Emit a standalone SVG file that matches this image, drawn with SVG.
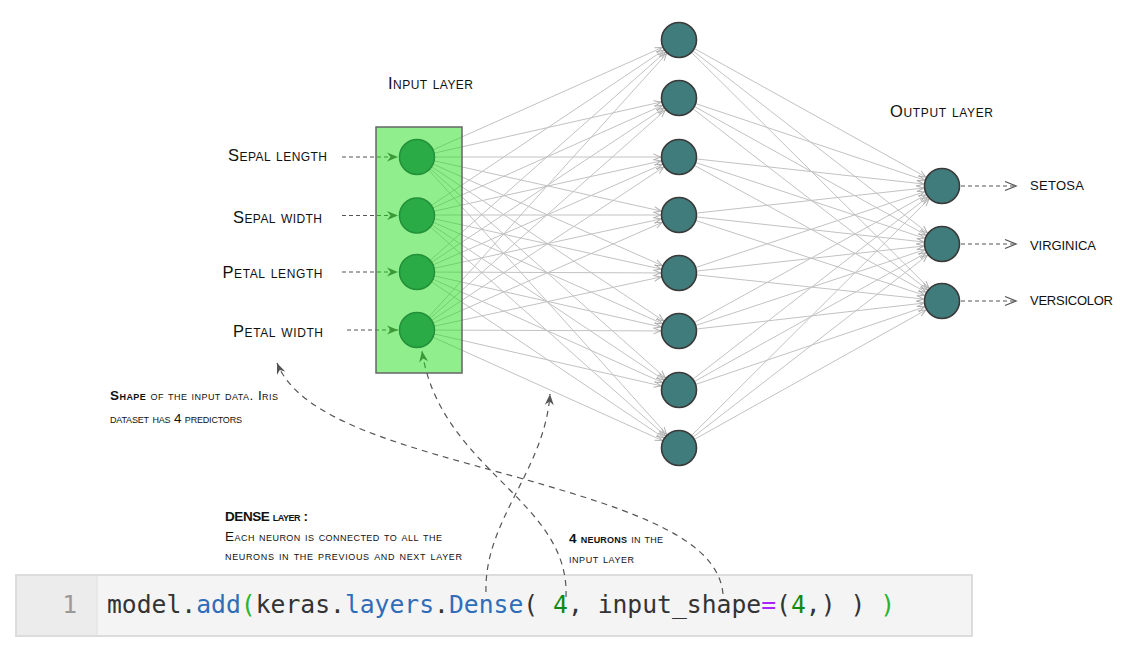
<svg xmlns="http://www.w3.org/2000/svg" width="1127" height="652" viewBox="0 0 1127 652">
  <style>
    .lbl { font-family: "Liberation Sans", Arial, sans-serif; font-variant: small-caps; fill: #111; }
    .big { font-size: 16.5px; }
    .out { font-size: 18px; }
    .note { font-size: 13.5px; }
    .syn { stroke: #c2c2c2; stroke-width: 1; fill: none; marker-end: url(#chev); }
    .feed { stroke: #555; stroke-width: 1.2; stroke-dasharray: 4 3; fill: none; marker-end: url(#barb); }
    .emit { stroke: #555; stroke-width: 1.2; stroke-dasharray: 4 3; fill: none; marker-end: url(#open); }
    .curve { stroke: #555; stroke-width: 1.2; stroke-dasharray: 6 5; fill: none; marker-end: url(#barb); }
    .in { fill: #2aab45; stroke: #23913a; stroke-width: 1.5; }
    .hid { fill: #407c7b; stroke: #3a3a3a; stroke-width: 1.6; }
    .code { font-family: "DejaVu Sans Mono", "Liberation Mono", monospace; font-size: 24.7px; fill: #333; }
    .b { fill: #2f6db8; }
    .g { fill: #2ab52a; }
    .n { fill: #118a11; }
    .p { fill: #aa22ff; }
  </style>
  <defs>
    <marker id="chev" markerUnits="userSpaceOnUse" markerWidth="40" markerHeight="20" refX="18.5" refY="0" orient="auto" overflow="visible">
      <path d="M-7,-3 L0,0 L-7,3" fill="none" stroke="#b0b0b0" stroke-width="1"/>
    </marker>
    <marker id="barb" markerUnits="userSpaceOnUse" markerWidth="20" markerHeight="20" refX="0" refY="0" orient="auto" overflow="visible">
      <path d="M0,0 L-11,-4.5 L-7.5,0 L-11,4.5 Z" fill="#555"/>
    </marker>
    <marker id="open" markerUnits="userSpaceOnUse" markerWidth="20" markerHeight="20" refX="0" refY="0" orient="auto" overflow="visible">
      <path d="M-11,-4.5 L0,0 L-11,4.5" fill="none" stroke="#555" stroke-width="1.3"/>
    </marker>
  </defs>

  <rect width="1127" height="652" fill="#fff"/>

  <!-- code cell -->
  <g id="code-cell">
    <rect x="16" y="575" width="956" height="61" fill="#f4f4f4" stroke="#dcdcdc" stroke-width="2"/>
    <rect x="17" y="576" width="80" height="59" fill="#ececec"/>
    <line x1="97" y1="576" x2="97" y2="635" stroke="#e0e0e0" stroke-width="1"/>
    <text class="code" x="77" y="613" text-anchor="end" style="fill:#999">1</text>
    <text class="code" x="107" y="613" textLength="788" lengthAdjust="spacing">model.<tspan class="b">add</tspan><tspan class="g">(</tspan>keras.<tspan class="b">layers</tspan>.<tspan class="b">Dense</tspan>( <tspan class="n">4</tspan>, input_shape<tspan class="p">=</tspan>(<tspan class="n">4</tspan>,) ) <tspan class="g">)</tspan></text>
  </g>

  <!-- connectors -->
  <g id="connectors">
    <!-- input -> hidden -->
    <line class="syn" x1="417" y1="157" x2="679" y2="40"/>
    <line class="syn" x1="417" y1="157" x2="679" y2="98"/>
    <line class="syn" x1="417" y1="157" x2="679" y2="157"/>
    <line class="syn" x1="417" y1="157" x2="679" y2="215"/>
    <line class="syn" x1="417" y1="157" x2="679" y2="273"/>
    <line class="syn" x1="417" y1="157" x2="679" y2="331"/>
    <line class="syn" x1="417" y1="157" x2="679" y2="390"/>
    <line class="syn" x1="417" y1="157" x2="679" y2="448"/>
    <line class="syn" x1="417" y1="215" x2="679" y2="40"/>
    <line class="syn" x1="417" y1="215" x2="679" y2="98"/>
    <line class="syn" x1="417" y1="215" x2="679" y2="157"/>
    <line class="syn" x1="417" y1="215" x2="679" y2="215"/>
    <line class="syn" x1="417" y1="215" x2="679" y2="273"/>
    <line class="syn" x1="417" y1="215" x2="679" y2="331"/>
    <line class="syn" x1="417" y1="215" x2="679" y2="390"/>
    <line class="syn" x1="417" y1="215" x2="679" y2="448"/>
    <line class="syn" x1="417" y1="272" x2="679" y2="40"/>
    <line class="syn" x1="417" y1="272" x2="679" y2="98"/>
    <line class="syn" x1="417" y1="272" x2="679" y2="157"/>
    <line class="syn" x1="417" y1="272" x2="679" y2="215"/>
    <line class="syn" x1="417" y1="272" x2="679" y2="273"/>
    <line class="syn" x1="417" y1="272" x2="679" y2="331"/>
    <line class="syn" x1="417" y1="272" x2="679" y2="390"/>
    <line class="syn" x1="417" y1="272" x2="679" y2="448"/>
    <line class="syn" x1="417" y1="330" x2="679" y2="40"/>
    <line class="syn" x1="417" y1="330" x2="679" y2="98"/>
    <line class="syn" x1="417" y1="330" x2="679" y2="157"/>
    <line class="syn" x1="417" y1="330" x2="679" y2="215"/>
    <line class="syn" x1="417" y1="330" x2="679" y2="273"/>
    <line class="syn" x1="417" y1="330" x2="679" y2="331"/>
    <line class="syn" x1="417" y1="330" x2="679" y2="390"/>
    <line class="syn" x1="417" y1="330" x2="679" y2="448"/>
    <!-- hidden -> output -->
    <line class="syn" x1="679" y1="40" x2="942" y2="186"/>
    <line class="syn" x1="679" y1="40" x2="942" y2="244"/>
    <line class="syn" x1="679" y1="40" x2="942" y2="301"/>
    <line class="syn" x1="679" y1="98" x2="942" y2="186"/>
    <line class="syn" x1="679" y1="98" x2="942" y2="244"/>
    <line class="syn" x1="679" y1="98" x2="942" y2="301"/>
    <line class="syn" x1="679" y1="157" x2="942" y2="186"/>
    <line class="syn" x1="679" y1="157" x2="942" y2="244"/>
    <line class="syn" x1="679" y1="157" x2="942" y2="301"/>
    <line class="syn" x1="679" y1="215" x2="942" y2="186"/>
    <line class="syn" x1="679" y1="215" x2="942" y2="244"/>
    <line class="syn" x1="679" y1="215" x2="942" y2="301"/>
    <line class="syn" x1="679" y1="273" x2="942" y2="186"/>
    <line class="syn" x1="679" y1="273" x2="942" y2="244"/>
    <line class="syn" x1="679" y1="273" x2="942" y2="301"/>
    <line class="syn" x1="679" y1="331" x2="942" y2="186"/>
    <line class="syn" x1="679" y1="331" x2="942" y2="244"/>
    <line class="syn" x1="679" y1="331" x2="942" y2="301"/>
    <line class="syn" x1="679" y1="390" x2="942" y2="186"/>
    <line class="syn" x1="679" y1="390" x2="942" y2="244"/>
    <line class="syn" x1="679" y1="390" x2="942" y2="301"/>
    <line class="syn" x1="679" y1="448" x2="942" y2="186"/>
    <line class="syn" x1="679" y1="448" x2="942" y2="244"/>
    <line class="syn" x1="679" y1="448" x2="942" y2="301"/>

    <!-- feature arrows into the input layer -->
    <path class="feed" d="M342,157 H398"/>
    <path class="feed" d="M342,215.5 H398"/>
    <path class="feed" d="M342,272 H398"/>
    <path class="feed" d="M347,330 H398"/>

    <!-- class arrows out of the output layer -->
    <path class="emit" d="M961,186 H1016"/>
    <path class="emit" d="M961,244 H1016"/>
    <path class="emit" d="M961,301 H1016"/>

    <!-- annotation curves from the code line -->
    <path class="curve" d="M723,594 C718,540 640,512 520,478 C400,445 300,420 277,363"/>
    <path class="curve" d="M486,592 C484,520 545,470 550,394"/>
    <path class="curve" d="M566,597 C570,500 440,470 422,351"/>
  </g>

  <!-- input layer -->
  <g id="input-layer">
    <rect x="376" y="127" width="86" height="246" fill="#22dd1c" fill-opacity="0.5" stroke="#666" stroke-width="1.5"/>
    <text class="lbl big" x="388" y="89" textLength="85">Input layer</text>
  </g>
  <g id="in-sepal-length"><circle class="in" cx="417" cy="157" r="17.5"/><text class="lbl big" x="327" y="160.5" text-anchor="end" textLength="99">Sepal length</text></g>
  <g id="in-sepal-width"><circle class="in" cx="417" cy="215.5" r="17.5"/><text class="lbl big" x="322" y="222.5" text-anchor="end" textLength="89">Sepal width</text></g>
  <g id="in-petal-length"><circle class="in" cx="417" cy="272" r="17.5"/><text class="lbl big" x="322.5" y="277.5" text-anchor="end" textLength="100">Petal length</text></g>
  <g id="in-petal-width"><circle class="in" cx="417" cy="330" r="17.5"/><text class="lbl big" x="323" y="336.5" text-anchor="end" textLength="90">Petal width</text></g>

  <!-- hidden layer -->
  <g id="h1"><circle class="hid" cx="679" cy="40" r="17.5"/></g>
  <g id="h2"><circle class="hid" cx="679" cy="98" r="17.5"/></g>
  <g id="h3"><circle class="hid" cx="679" cy="157" r="17.5"/></g>
  <g id="h4"><circle class="hid" cx="679" cy="215" r="17.5"/></g>
  <g id="h5"><circle class="hid" cx="679" cy="273" r="17.5"/></g>
  <g id="h6"><circle class="hid" cx="679" cy="331" r="17.5"/></g>
  <g id="h7"><circle class="hid" cx="679" cy="390" r="17.5"/></g>
  <g id="h8"><circle class="hid" cx="679" cy="448" r="17.5"/></g>

  <!-- output layer -->
  <g id="output-layer"><text class="lbl big" x="890" y="116.5" textLength="103">Output layer</text></g>
  <g id="out-setosa"><circle class="hid" cx="942" cy="186" r="17.5"/><text class="lbl out" x="1030" y="189.5" textLength="54">setosa</text></g>
  <g id="out-virginica"><circle class="hid" cx="942" cy="244" r="17.5"/><text class="lbl out" x="1030" y="249.5" textLength="66">virginica</text></g>
  <g id="out-versicolor"><circle class="hid" cx="942" cy="301" r="17.5"/><text class="lbl out" x="1030" y="305" textLength="83">versicolor</text></g>

  <!-- notes -->
  <g id="note-shape">
    <text class="lbl note" x="110" y="399.5" textLength="168"><tspan font-weight="bold">Shape</tspan> of the input data. Iris</text>
    <text class="lbl note" x="110" y="423" textLength="132">dataset has 4 predictors</text>
  </g>
  <g id="note-dense">
    <text class="lbl note" x="225" y="520.7" textLength="83" font-weight="bold">DENSE layer :</text>
    <text class="lbl note" x="225" y="540.7" textLength="217">Each neuron is connected to all the</text>
    <text class="lbl note" x="225" y="560" textLength="237">neurons in the previous and next layer</text>
  </g>
  <g id="note-neurons">
    <text class="lbl note" x="569" y="543.3" textLength="94"><tspan font-weight="bold">4 neurons</tspan> in the</text>
    <text class="lbl note" x="569" y="562.7" textLength="65">input layer</text>
  </g>
</svg>
